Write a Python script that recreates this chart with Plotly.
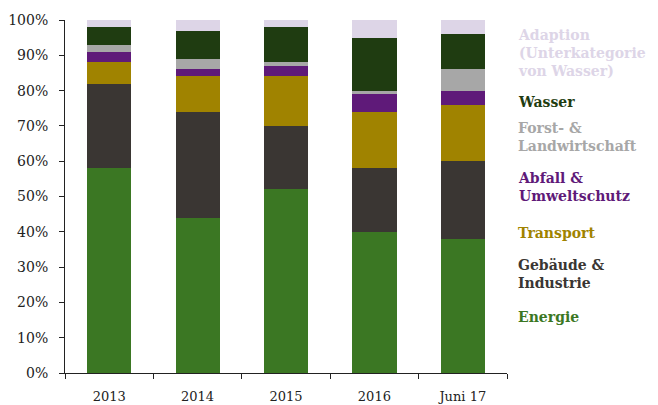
import plotly.graph_objects as go

categories = ["2013", "2014", "2015", "2016", "Juni 17"]

energie = [58, 44, 52, 40, 38]
gebaeude = [24, 30, 18, 18, 22]
transport = [6, 10, 14, 16, 16]
abfall = [3, 2, 3, 5, 4]
forst = [2, 3, 1, 1, 6]
wasser = [5, 8, 10, 15, 10]
adaption = [2, 3, 2, 5, 4]

series_names = ["Energie", "Gebäude &<br>Industrie", "Transport", "Abfall &<br>Umweltschutz",
                "Forst- &<br>Landwirtschaft", "Wasser", "Adaption<br>(Unterkategorie<br>von Wasser)"]
series_values = [energie, gebaeude, transport, abfall, forst, wasser, adaption]
colors = ["#3b7723", "#3a3633", "#a08300", "#5f1a79", "#a7a7a7", "#1f3c11", "#ddd5e7"]

y_tickvals = [0, 10, 20, 30, 40, 50, 60, 70, 80, 90, 100]
y_ticktext = [f"{v}%" for v in y_tickvals]

FONT = "DejaVu Serif"

# page body has an 8px default margin; compensate so the plot area sits where the reference has it
OFF = 8
PL, PT, PW, PH = 65, 20, 442, 353  # target plot area in window pixels

fig = go.Figure()
for name, vals, col in zip(series_names, series_values, colors):
    fig.add_trace(go.Bar(x=categories, y=vals, name=name, marker=dict(color=col, line=dict(width=0)),
                         width=0.5, showlegend=False))

# legend as colored text; pixel centers (window coords) for Energie ... Adaption
legend_y = [317, 274, 233, 187, 137, 102, 53]
for name, col, ypix in zip(series_names, colors, legend_y):
    fig.add_annotation(text=f"<b>{name}</b>", xref="paper", yref="paper",
                       x=(516 - PL) / PW, y=(PT + PH - ypix) / PH, xanchor="left", yanchor="middle",
                       align="left", showarrow=False,
                       font=dict(family=FONT, size=14, color=col))

fig.update_layout(
    barmode="stack",
    width=658, height=405,
    margin=dict(l=PL - OFF, r=658 - PL - PW + OFF, t=PT - OFF, b=405 - PT - PH + OFF),
    paper_bgcolor="white", plot_bgcolor="white",
    font=dict(family=FONT, size=13, color="#222222"),
    xaxis=dict(type="category", showline=True, linecolor="#222222", linewidth=1,
               ticks="outside", ticklen=5, tickcolor="#222222", tickson="boundaries",
               ticklabelstandoff=11, automargin=False,
               tickfont=dict(family=FONT, size=13, color="#222222"), showgrid=False),
    yaxis=dict(range=[0, 100], tickvals=y_tickvals, ticktext=y_ticktext, showline=True,
               linecolor="#222222", linewidth=1, ticks="outside", ticklen=5, tickcolor="#222222",
               ticklabelstandoff=8, automargin=False,
               tickfont=dict(family=FONT, size=14, color="#222222"), showgrid=False, zeroline=False),
    shapes=[dict(type="line", xref="paper", yref="paper", x0=(7 - PL) / PW, x1=(7 - PL) / PW,
                 y0=-(405 - PT - PH) / PH, y1=1 + PT / PH, line=dict(color="#d0d0d0", width=1))],
)

fig.write_html("out.html")
